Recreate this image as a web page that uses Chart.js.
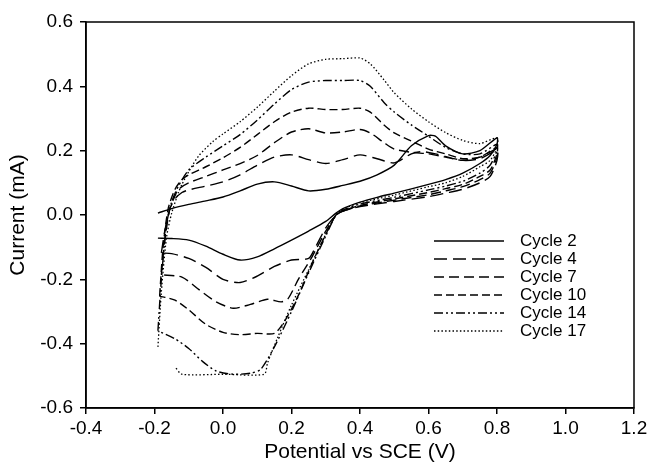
<!DOCTYPE html>
<html>
<head>
<meta charset="utf-8">
<script src="https://cdn.jsdelivr.net/npm/chart.js@4/dist/chart.umd.min.js"></script>
<style>
  html, body { margin: 0; padding: 0; background: #fff; }
  canvas { display: block; }
</style>
</head>
<body>
<canvas id="cv" width="648" height="468"></canvas>
<script>
// cyclic voltammograms (V vs SCE, mA)
const labels = ["Cycle 2", "Cycle 4", "Cycle 7", "Cycle 10", "Cycle 14", "Cycle 17"];
const xTicks = [-0.4, -0.2, 0.0, 0.2, 0.4, 0.6, 0.8, 1.0, 1.2];
const yTicks = [-0.6, -0.4, -0.2, 0.0, 0.2, 0.4, 0.6];

const cycle2X = [-0.19, -0.15, -0.1, -0.05, 0.0, 0.05, 0.1, 0.15, 0.2, 0.25, 0.3, 0.35, 0.4, 0.45, 0.5, 0.55, 0.6, 0.62, 0.65, 0.7, 0.75, 0.8,
  0.8, 0.78, 0.75, 0.7, 0.65, 0.6, 0.5, 0.45, 0.4, 0.35, 0.33, 0.3, 0.25, 0.2, 0.15, 0.1, 0.05, 0.0, -0.05, -0.1, -0.15, -0.19];
const cycle2Y = [0.006, 0.02, 0.033, 0.044, 0.056, 0.075, 0.096, 0.103, 0.09, 0.075, 0.08, 0.092, 0.105, 0.125, 0.155, 0.215, 0.247, 0.245, 0.215, 0.19, 0.2, 0.24,
  0.22, 0.185, 0.16, 0.13, 0.11, 0.095, 0.068, 0.055, 0.04, 0.02, 0.006, -0.02, -0.05, -0.078, -0.105, -0.13, -0.14, -0.122, -0.097, -0.078, -0.073, -0.072];

const cycle4X = [-0.18, -0.17, -0.155, -0.14, -0.12, -0.1, -0.05, 0.0, 0.05, 0.1, 0.15, 0.2, 0.25, 0.3, 0.35, 0.4, 0.45, 0.5, 0.55, 0.58, 0.62, 0.7, 0.75, 0.8,
  0.8, 0.78, 0.75, 0.7, 0.65, 0.6, 0.5, 0.4, 0.35, 0.33, 0.3, 0.27, 0.25, 0.2, 0.15, 0.1, 0.05, 0.0, -0.05, -0.1, -0.15, -0.18];
const cycle4Y = [-0.118, -0.05, 0.02, 0.05, 0.07, 0.078, 0.09, 0.103, 0.125, 0.155, 0.18, 0.187, 0.172, 0.16, 0.172, 0.187, 0.175, 0.162, 0.19, 0.197, 0.19, 0.17, 0.175, 0.2,
  0.17, 0.12, 0.1, 0.08, 0.068, 0.057, 0.042, 0.026, 0.012, 0.0, -0.04, -0.1, -0.135, -0.14, -0.16, -0.19, -0.21, -0.2, -0.163, -0.135, -0.12, -0.118];

const cycle7X = [-0.18, -0.17, -0.155, -0.14, -0.13, -0.1, -0.05, 0.0, 0.05, 0.1, 0.15, 0.2, 0.25, 0.3, 0.35, 0.4, 0.43, 0.47, 0.5, 0.55, 0.6, 0.65, 0.7, 0.75, 0.8,
  0.8, 0.78, 0.75, 0.7, 0.65, 0.6, 0.5, 0.4, 0.35, 0.33, 0.3, 0.26, 0.22, 0.19, 0.17, 0.13, 0.08, 0.03, -0.02, -0.07, -0.12, -0.18];
const cycle7Y = [-0.186, -0.08, 0.02, 0.06, 0.08, 0.1, 0.12, 0.14, 0.16, 0.185, 0.225, 0.258, 0.268, 0.255, 0.258, 0.266, 0.255, 0.225, 0.205, 0.195, 0.19, 0.18, 0.17, 0.18, 0.205,
  0.18, 0.13, 0.11, 0.088, 0.075, 0.063, 0.046, 0.028, 0.012, 0.0, -0.05, -0.13, -0.2, -0.26, -0.27, -0.262, -0.278, -0.29, -0.27, -0.232, -0.193, -0.186];

const cycle10X = [-0.185, -0.175, -0.16, -0.14, -0.12, -0.1, -0.05, 0.0, 0.05, 0.1, 0.15, 0.2, 0.25, 0.3, 0.35, 0.4, 0.43, 0.47, 0.5, 0.55, 0.6, 0.65, 0.7, 0.75, 0.8,
  0.8, 0.78, 0.75, 0.7, 0.65, 0.6, 0.5, 0.4, 0.35, 0.33, 0.3, 0.26, 0.22, 0.18, 0.15, 0.1, 0.05, 0.0, -0.05, -0.1, -0.14, -0.185];
const cycle10Y = [-0.252, -0.1, 0.02, 0.08, 0.11, 0.125, 0.15, 0.178, 0.21, 0.25, 0.29, 0.32, 0.332, 0.328, 0.328, 0.332, 0.32, 0.28, 0.255, 0.23, 0.205, 0.19, 0.175, 0.18, 0.21,
  0.19, 0.14, 0.12, 0.095, 0.082, 0.07, 0.05, 0.03, 0.012, 0.0, -0.06, -0.15, -0.25, -0.33, -0.368, -0.368, -0.372, -0.365, -0.34, -0.295, -0.265, -0.252];

const cycle14X = [-0.19, -0.18, -0.165, -0.15, -0.13, -0.1, -0.05, 0.0, 0.05, 0.1, 0.15, 0.2, 0.25, 0.3, 0.35, 0.4, 0.43, 0.47, 0.5, 0.55, 0.6, 0.65, 0.7, 0.75, 0.8,
  0.8, 0.78, 0.75, 0.7, 0.65, 0.6, 0.5, 0.4, 0.35, 0.33, 0.3, 0.25, 0.2, 0.15, 0.11, 0.08, 0.03, -0.02, -0.06, -0.1, -0.14, -0.19];
const cycle14Y = [-0.36, -0.2, -0.03, 0.04, 0.09, 0.14, 0.18, 0.215, 0.25, 0.295, 0.345, 0.39, 0.413, 0.418, 0.418, 0.418, 0.4, 0.35, 0.32, 0.28, 0.245, 0.21, 0.19, 0.19, 0.22,
  0.2, 0.155, 0.13, 0.105, 0.09, 0.078, 0.055, 0.034, 0.015, 0.0, -0.065, -0.18, -0.3, -0.41, -0.48, -0.492, -0.495, -0.485, -0.455, -0.415, -0.385, -0.36];

const cycle17X = [-0.19, -0.18, -0.165, -0.15, -0.13, -0.12, -0.1, -0.07, -0.03, 0.0, 0.05, 0.1, 0.15, 0.2, 0.25, 0.3, 0.35, 0.4, 0.43, 0.47, 0.5, 0.55, 0.6, 0.65, 0.7, 0.75, 0.8,
  0.8, 0.78, 0.75, 0.7, 0.65, 0.6, 0.5, 0.4, 0.35, 0.33, 0.3, 0.25, 0.2, 0.16, 0.13, 0.12, 0.0, -0.12, -0.14];
const cycle17Y = [-0.41, -0.24, -0.07, 0.005, 0.07, 0.095, 0.135, 0.185, 0.228, 0.252, 0.29, 0.335, 0.385, 0.433, 0.47, 0.484, 0.486, 0.488, 0.47, 0.42, 0.38, 0.33, 0.29, 0.256, 0.232, 0.222, 0.24,
  0.21, 0.17, 0.15, 0.12, 0.1, 0.088, 0.062, 0.038, 0.018, 0.0, -0.06, -0.17, -0.28, -0.38, -0.46, -0.495, -0.495, -0.495, -0.472];

const dashes = [[], [13, 6], [10, 5], [8, 4], [9, 3, 2, 3, 2, 3], [1.5, 2.2]];
const xs = [cycle2X, cycle4X, cycle7X, cycle10X, cycle14X, cycle17X];
const ys = [cycle2Y, cycle4Y, cycle7Y, cycle10Y, cycle14Y, cycle17Y];

const FONT = "'Liberation Sans', Arial, sans-serif";

const datasets = labels.map((name, i) => ({
  label: name,
  data: xs[i].map((x, j) => ({ x: x, y: ys[i][j] })),
  borderColor: "#000",
  borderWidth: i === 5 ? 1.3 : 1.4,
  borderDash: dashes[i],
  pointRadius: 0,
  showLine: true,
  tension: 0.25,
  fill: false
}));

// frame around plot + legend inside the plot area
const frameAndLegend = {
  id: "frameAndLegend",
  afterDraw(chart) {
    const { ctx, chartArea } = chart;
    ctx.save();
    ctx.strokeStyle = "#000";
    ctx.lineWidth = 1.5;
    ctx.strokeRect(chartArea.left, chartArea.top, chartArea.right - chartArea.left, chartArea.bottom - chartArea.top);

    ctx.font = "17px " + FONT;
    ctx.fillStyle = "#000";
    ctx.textBaseline = "middle";
    chart.data.datasets.forEach((ds, i) => {
      const y = 241 + i * 18;
      ctx.beginPath();
      ctx.setLineDash(ds.borderDash);
      ctx.lineWidth = ds.borderWidth;
      ctx.moveTo(434, y);
      ctx.lineTo(504, y);
      ctx.stroke();
      ctx.setLineDash([]);
      ctx.fillText(ds.label, 520, y);
    });
    ctx.restore();
  }
};

new Chart(document.getElementById("cv"), {
  type: "scatter",
  data: { datasets: datasets },
  options: {
    responsive: false,
    animation: false,
    devicePixelRatio: 1,
    layout: { padding: { top: 22, right: 14, left: 0, bottom: 0 } },
    plugins: { legend: { display: false }, tooltip: { enabled: false } },
    scales: {
      x: {
        type: "linear",
        min: -0.4,
        max: 1.2,
        afterBuildTicks: s => { s.ticks = xTicks.map(v => ({ value: v })); },
        afterFit: s => { s.height = 60; s.paddingLeft = 0; s.paddingRight = 0; },
        ticks: { color: "#000", font: { family: FONT, size: 19 }, padding: 3, maxRotation: 0,
          callback: v => v.toFixed(1) },
        grid: { drawOnChartArea: false, drawTicks: true, tickLength: 6, color: "#000", lineWidth: 1.5 },
        border: { display: true, color: "#000", width: 1.5 },
        title: { display: true, text: "Potential vs SCE (V)", color: "#000",
          font: { family: FONT, size: 21 }, padding: { top: 0, bottom: 3 } }
      },
      y: {
        type: "linear",
        min: -0.6,
        max: 0.6,
        afterBuildTicks: s => { s.ticks = yTicks.map(v => ({ value: v })); },
        afterFit: s => { s.width = 86; s.paddingTop = 0; s.paddingBottom = 0; },
        ticks: { color: "#000", font: { family: FONT, size: 19 }, padding: 7,
          callback: v => v.toFixed(1) },
        grid: { drawOnChartArea: false, drawTicks: true, tickLength: 6, color: "#000", lineWidth: 1.5 },
        border: { display: true, color: "#000", width: 1.5 },
        title: { display: true, text: "Current (mA)", color: "#000",
          font: { family: FONT, size: 21 }, padding: { top: 6, bottom: 0 } }
      }
    }
  },
  plugins: [frameAndLegend]
});
</script>
</body>
</html>
